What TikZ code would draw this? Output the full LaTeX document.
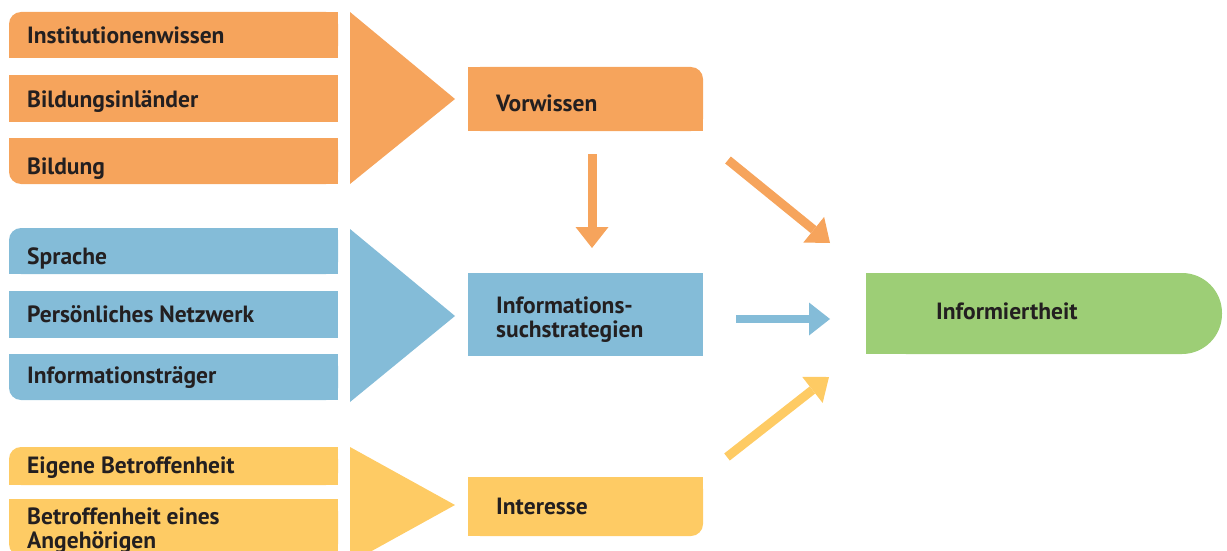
\documentclass[tikz,border=0pt]{standalone}
\usepackage{fontspec}
\setmainfont{PT Sans}
\usetikzlibrary{arrows.meta}
\definecolor{cor}{RGB}{246,164,92}
\definecolor{cbl}{RGB}{132,188,216}
\definecolor{cye}{RGB}{254,203,100}
\definecolor{cgr}{RGB}{157,206,118}
\definecolor{ctx}{RGB}{35,31,32}
\begin{document}
\begin{tikzpicture}[x=1pt,y=-1pt,
  lbl/.style={anchor=base west,inner sep=0pt,text=ctx,font=\fontsize{23.5}{24}\selectfont\bfseries,align=left},
  rc/.style={rounded corners=12pt},
  arr/.style={line width=9pt,line cap=butt,-{Triangle[width=33pt,length=21pt,line width=0pt]}}]
\useasboundingbox (0,0) rectangle (1227,551);
\clip (0,0) rectangle (1227,551);
% orange group
\fill[cor,rc] (9,12) rectangle (338,58); \fill[cor] (30,12) rectangle (338,58); \fill[cor] (9,35) rectangle (338,58);
\fill[cor] (9,75) rectangle (338,122);
\fill[cor,rc] (9,138) rectangle (338,184); \fill[cor] (30,138) rectangle (338,184); \fill[cor] (9,138) rectangle (338,160);
\fill[cor] (350,12) -- (455,99) -- (350,184) -- cycle;
\node[lbl] (inst) at (27,44) {Institutionenwissen};
\node[lbl] (bili) at (27,107) {Bildungsinländer};
\node[lbl] (bild) at (27,174) {Bildung};
% blue group
\fill[cbl,rc] (9,228) rectangle (338,274); \fill[cbl] (30,228) rectangle (338,274); \fill[cbl] (9,250) rectangle (338,274);
\fill[cbl] (9,291) rectangle (338,338);
\fill[cbl,rc] (9,354) rectangle (338,400); \fill[cbl] (30,354) rectangle (338,400); \fill[cbl] (9,354) rectangle (338,377);
\fill[cbl] (350,229) -- (455,316) -- (350,402) -- cycle;
\node[lbl] (spra) at (27,264) {Sprache};
\node[lbl] (netz) at (27,322) {Persönliches Netzwerk};
\node[lbl] (trae) at (27,383) {Informationsträger};
% yellow group
\fill[cye,rc] (9,447) rectangle (338,485); \fill[cye] (30,447) rectangle (338,485); \fill[cye] (9,466) rectangle (338,485);
\fill[cye,rc] (9,499) rectangle (338,556); \fill[cye] (30,499) rectangle (338,556); \fill[cye] (9,499) rectangle (338,527);
\fill[cye] (350,447) -- (455,505) -- (350,563) -- cycle;
\node[lbl] (eige) at (27,473) {Eigene Betroffenheit};
\node[lbl] (ange) at (27,548) {Betroffenheit eines\\Angehörigen};
% middle column
\fill[cor,rc] (468,67) rectangle (703,131); \fill[cor] (468,67) rectangle (680,131); \fill[cor] (468,99) rectangle (703,131);
\node[lbl] (vorw) at (496,111) {Vorwissen};
\fill[cbl] (468,273) rectangle (703,356);
\node[lbl] (such) at (496,337) {Informations-\\suchstrategien};
\fill[cye,rc] (468,477) rectangle (703,536); \fill[cye] (468,477) rectangle (680,536); \fill[cye] (468,477) rectangle (703,506);
\node[lbl] (inte) at (496,514) {Interesse};
% result
\fill[cgr,rounded corners=40pt] (866,273) rectangle (1222,354); \fill[cgr] (866,273) rectangle (1150,354);
\node[lbl] (info) at (936,319) {Informiertheit};
% arrows
\coordinate (a1s) at (592,154); \coordinate (a1e) at (592,248);
\coordinate (a2s) at (728,160); \coordinate (a2e) at (830,243);
\coordinate (a3s) at (736,319); \coordinate (a3e) at (830,319);
\coordinate (a4s) at (727,457); \coordinate (a4e) at (829,377);
\draw[arr,cor] (a1s) -- (a1e);
\draw[arr,cor] (a2s) -- (a2e);
\draw[arr,cbl,line width=8pt] (a3s) -- (a3e);
\draw[arr,cye] (a4s) -- (a4e);
\end{tikzpicture}
\end{document}
